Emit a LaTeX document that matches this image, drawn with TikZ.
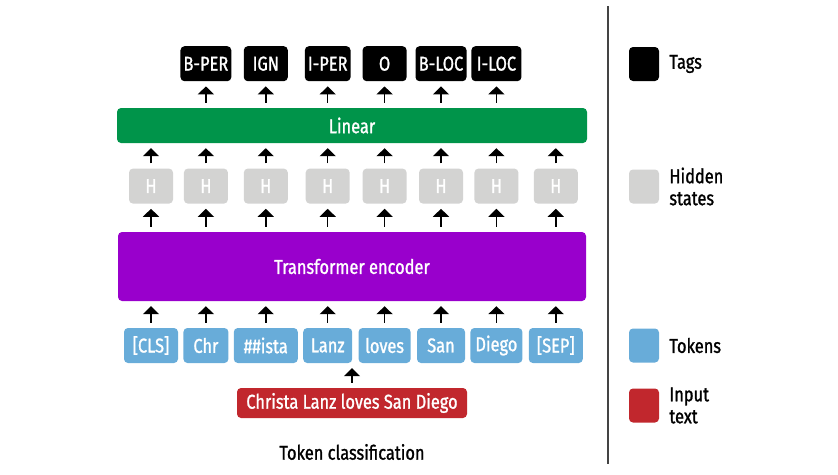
\documentclass[tikz,border=0pt]{standalone}
\usepackage{fontspec}
\setmainfont[FakeStretch=0.82,FakeBold=1.2]{Fira Sans}
\usetikzlibrary{positioning}
\usetikzlibrary{arrows.meta}
\definecolor{hidgray}{HTML}{D3D3D2}
\definecolor{lingreen}{HTML}{00944A}
\definecolor{encpurple}{HTML}{9900CC}
\definecolor{tokblue}{HTML}{68ACD9}
\definecolor{inred}{HTML}{C1272D}
\definecolor{rulegray}{HTML}{444444}
\tikzset{box node/.style={rounded corners=4pt, inner xsep=3pt, inner ysep=0pt, minimum height=35pt, text=white},
  tag node/.style={box node, fill=black, minimum width=44pt},
  hid node/.style={box node, fill=hidgray, minimum width=44pt},
  tok node/.style={box node, fill=tokblue},
  key node/.style={rounded corners=4pt, minimum width=30pt, minimum height=34pt, inner sep=0pt},
  key label/.style={align=left, inner sep=0pt},
  up/.style={-{Triangle[width=16pt,length=8pt]}, line width=1.4pt, shorten <=5pt, shorten >=5pt},}

\begin{document}
\begin{tikzpicture}[x=1pt,y=-1pt, every node/.style={font=\fontsize{20}{22}\selectfont}]
  \useasboundingbox (0,0) rectangle (838,474);

  % tokens
  \node[tok node, minimum width=54pt] (t1) at (151,345.5) {[CLS]};
  \node[tok node, minimum width=45pt] (t2) [right=5pt of t1] {Chr};
  \node[tok node, minimum width=64pt] (t3) [right=5pt of t2] {\#\#ista};
  \node[tok node, minimum width=49pt] (t4) [right=5pt of t3] {Lanz};
  \node[tok node, minimum width=52pt] (t5) [right=6pt of t4] {loves};
  \node[tok node, minimum width=48pt] (t6) [right=6pt of t5] {San};
  \node[tok node, minimum width=52pt] (t7) [right=5pt of t6] {Diego};
  \node[tok node, minimum width=54pt] (t8) [right=6pt of t7] {[SEP]};

  \node[box node, fill=inred, minimum width=230pt, minimum height=30pt] (in) at (352,403) {Christa Lanz loves San Diego};
  \node[box node, fill=encpurple, minimum width=468pt, minimum height=69pt] (enc) at (352,266.5) {Transformer encoder};
  \node[box node, fill=lingreen, minimum width=470pt] (lin) at (352,125.5) {Linear};

  % hidden states
  \node[hid node] (h1) [above=124pt of t1] {H};
  \node[hid node] (h2) [above=124pt of t2] {H};
  \node[hid node] (h3) [above=124pt of t3] {H};
  \node[hid node] (h4) [above=124pt of t4] {H};
  \node[hid node] (h5) [above=124pt of t5] {H};
  \node[hid node] (h6) [above=124pt of t6] {H};
  \node[hid node] (h7) [above=124pt of t7] {H};
  \node[hid node] (h8) [above=124pt of t8] {H};

  % tags
  \node[tag node, minimum width=49pt] (g1) [above=87pt of h2] {B-PER};
  \node[tag node] (g2) [above=87pt of h3] {IGN};
  \node[tag node] (g3) [above=87pt of h4] {I-PER};
  \node[tag node] (g4) [above=87pt of h5] {O};
  \node[tag node, minimum width=51pt] (g5) [above=87pt of h6] {B-LOC};
  \node[tag node, minimum width=50pt] (g6) [above=87pt of h7] {I-LOC};

  \path[up]
    (in) edge (in |- t4.south)
    (t1) edge (t1 |- enc.south)
    (t2) edge (t2 |- enc.south)
    (t3) edge (t3 |- enc.south)
    (t4) edge (t4 |- enc.south)
    (t5) edge (t5 |- enc.south)
    (t6) edge (t6 |- enc.south)
    (t7) edge (t7 |- enc.south)
    (t8) edge (t8 |- enc.south)
    (enc.north -| h1) edge (h1)
    (enc.north -| h2) edge (h2)
    (enc.north -| h3) edge (h3)
    (enc.north -| h4) edge (h4)
    (enc.north -| h5) edge (h5)
    (enc.north -| h6) edge (h6)
    (enc.north -| h7) edge (h7)
    (enc.north -| h8) edge (h8)
    (h1) edge (h1 |- lin.south)
    (h2) edge (h2 |- lin.south)
    (h3) edge (h3 |- lin.south)
    (h4) edge (h4 |- lin.south)
    (h5) edge (h5 |- lin.south)
    (h6) edge (h6 |- lin.south)
    (h7) edge (h7 |- lin.south)
    (h8) edge (h8 |- lin.south)
    (lin.north -| g1) edge (g1)
    (lin.north -| g2) edge (g2)
    (lin.north -| g3) edge (g3)
    (lin.north -| g4) edge (g4)
    (lin.north -| g5) edge (g5)
    (lin.north -| g6) edge (g6);

  \node (cap) at (352,452) {Token classification};

  % key
  \coordinate (r1) at (608,6);
  \coordinate (r2) at (608,464);
  \draw[rulegray, line width=1.2pt] (r1) -- (r2);

  \node[key node, fill=black] (k1) at (644,64) {};
  \node[key node, fill=hidgray] (k2) at (644,186.5) {};
  \node[key node, fill=tokblue] (k3) at (644,345.5) {};
  \node[key node, fill=inred] (k4) at (644,405.5) {};
  \node[key label] (l1) [right=10pt of k1] {Tags};
  \node[key label] (l2) [right=10pt of k2] {Hidden\\states};
  \node[key label] (l3) [right=10pt of k3] {Tokens};
  \node[key label] (l4) [right=10pt of k4] {Input\\text};
\end{tikzpicture}
\end{document}
